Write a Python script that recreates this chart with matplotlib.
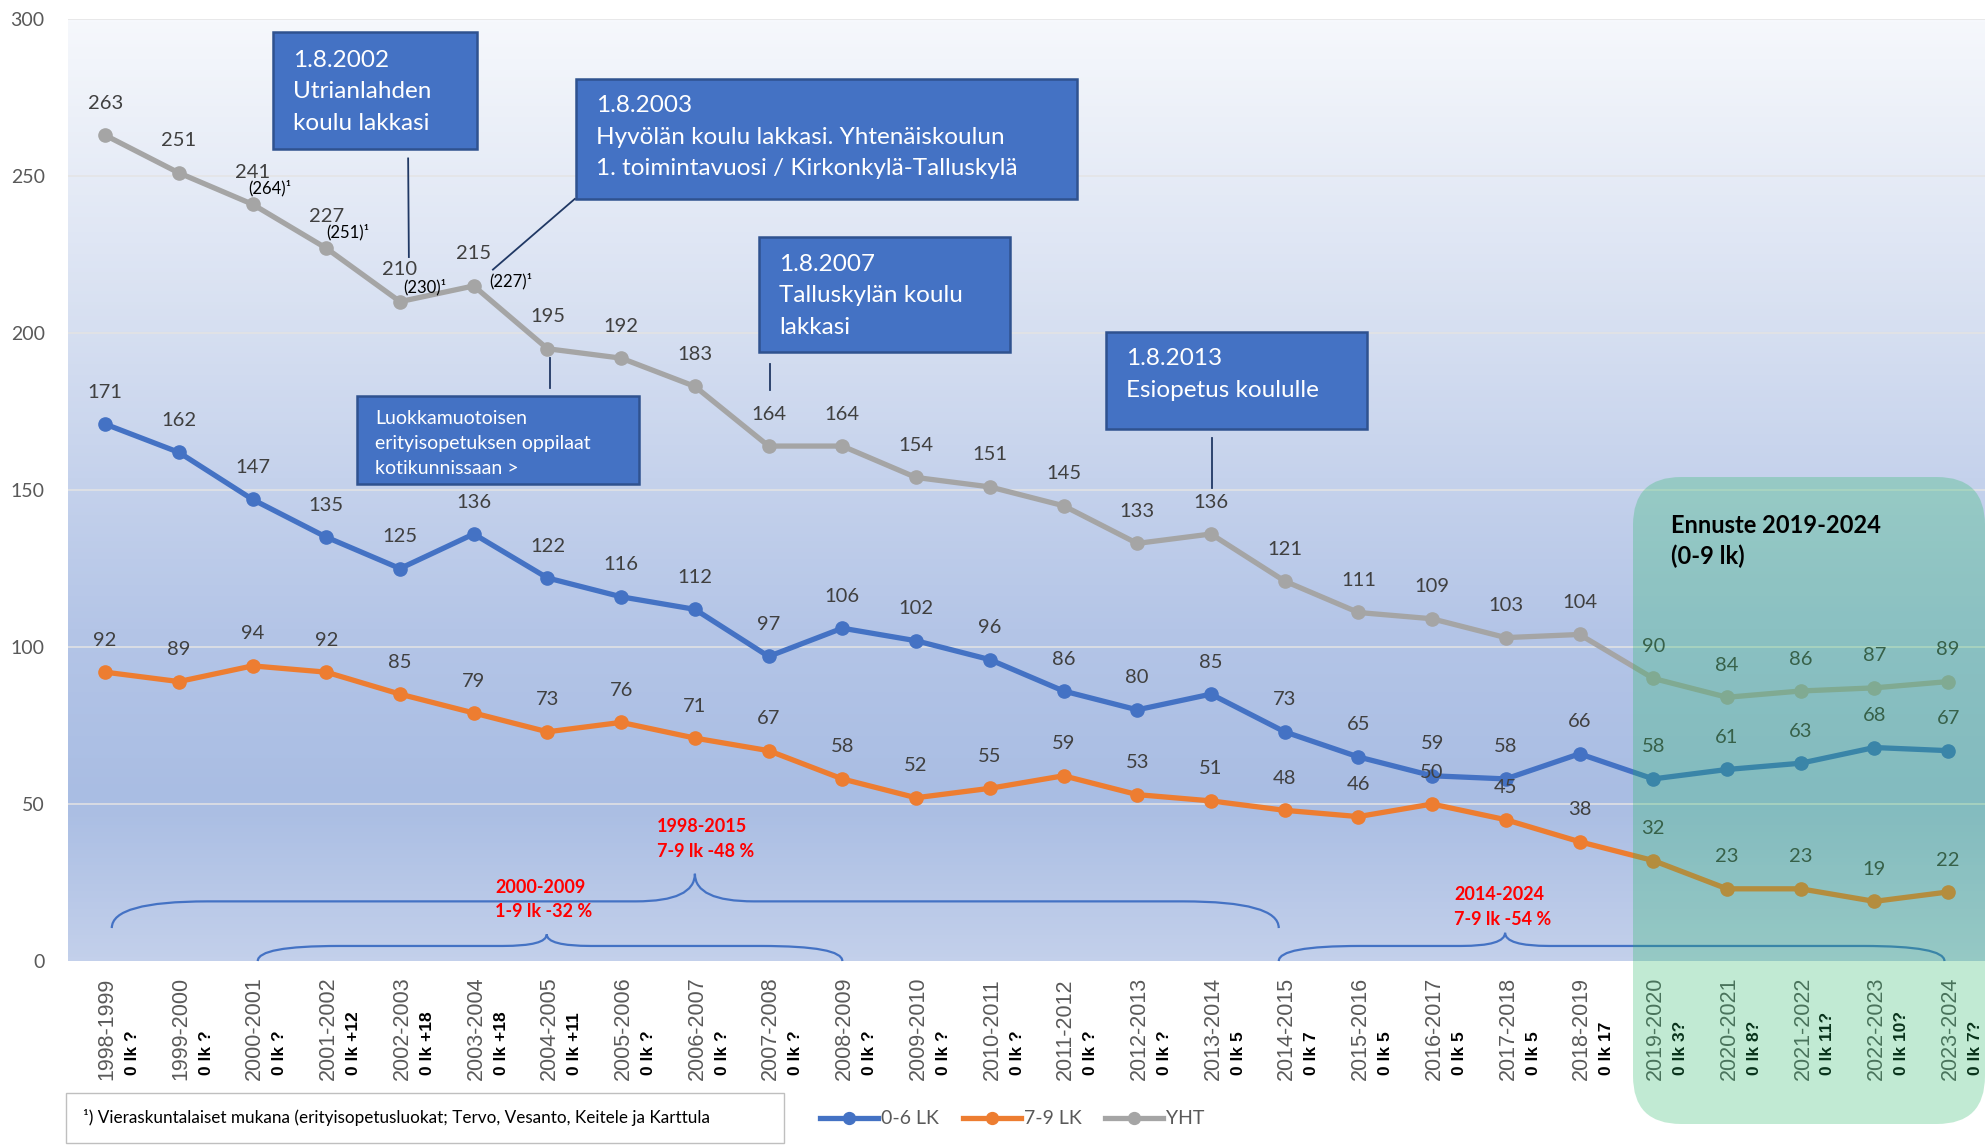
import matplotlib.pyplot as plt
from matplotlib.patches import Rectangle, FancyBboxPatch, PathPatch
from matplotlib.path import Path
from matplotlib.colors import LinearSegmentedColormap
from matplotlib.transforms import IdentityTransform
import numpy as np

plt.rcParams['font.family'] = ['Lato', 'DejaVu Sans']

# === data ===
years = ["1998-1999", "1999-2000", "2000-2001", "2001-2002", "2002-2003", "2003-2004",
         "2004-2005", "2005-2006", "2006-2007", "2007-2008", "2008-2009", "2009-2010",
         "2010-2011", "2011-2012", "2012-2013", "2013-2014", "2014-2015", "2015-2016",
         "2016-2017", "2017-2018", "2018-2019", "2019-2020", "2020-2021", "2021-2022",
         "2022-2023", "2023-2024"]
esi = ["0 lk ?", "0 lk ?", "0 lk ?", "0 lk +12", "0 lk +18", "0 lk +18", "0 lk +11",
       "0 lk ?", "0 lk ?", "0 lk ?", "0 lk ?", "0 lk ?", "0 lk ?", "0 lk ?", "0 lk ?",
       "0 lk 5", "0 lk 7", "0 lk 5", "0 lk 5", "0 lk 5", "0 lk 17", "0 lk 3?", "0 lk 8?",
       "0 lk 11?", "0 lk 10?", "0 lk 7?"]
lk_0_6 = [171, 162, 147, 135, 125, 136, 122, 116, 112, 97, 106, 102, 96, 86, 80, 85,
          73, 65, 59, 58, 66, 58, 61, 63, 68, 67]
lk_7_9 = [92, 89, 94, 92, 85, 79, 73, 76, 71, 67, 58, 52, 55, 59, 53, 51,
          48, 46, 50, 45, 38, 32, 23, 23, 19, 22]
yht = [263, 251, 241, 227, 210, 215, 195, 192, 183, 164, 164, 154, 151, 145, 133, 136,
       121, 111, 109, 103, 104, 90, 84, 86, 87, 89]
# YHT incl. students from other municipalities
extra_txt = ["(264)¹", "(251)¹", "(230)¹", "(227)¹"]

BLUE, ORANGE, GRAY = "#4472c4", "#ed7d31", "#a5a5a5"
LBL = "#404040"

fig = plt.figure(figsize=(19.85, 11.46), dpi=100)
ax = fig.add_axes([0.0344, 0.1614, 0.9656, 0.822])
x = np.arange(len(years))

# gradient background
cmap = LinearSegmentedColormap.from_list(
    "bg", [(0, "#c3d0eb"), (0.17, "#a9bde3"), (0.35, "#b4c5e7"), (0.67, "#d6dff1"), (1, "#f6f8fc")])
grad = np.linspace(0, 1, 256).reshape(-1, 1)
ax.imshow(grad, cmap=cmap, origin="lower", extent=(-0.5, 25.5, 0, 300), aspect="auto", zorder=0)

ax.set_xlim(-0.5, 25.5)
ax.set_ylim(0, 300)
ax.set_yticks(range(0, 301, 50))
for v in range(50, 301, 50):
    ax.axhline(v, color="#e4e4e4", lw=1.1, zorder=0.5)
for s in ax.spines.values():
    s.set_visible(False)
ax.tick_params(axis="y", length=0, pad=17, labelsize=14, labelcolor="#595959")
ax.set_xticks([])

# lines
l1, = ax.plot(x, lk_0_6, color=BLUE, lw=3.8, marker="o", ms=9.5, label="0-6 LK", zorder=2)
l2, = ax.plot(x, lk_7_9, color=ORANGE, lw=3.8, marker="o", ms=9.5, label="7-9 LK", zorder=2)
l3, = ax.plot(x, yht, color=GRAY, lw=3.8, marker="o", ms=9.5, label="YHT", zorder=2)

for series in (lk_0_6, lk_7_9, yht):
    for i, v in enumerate(series):
        ax.annotate(str(v), (i, v), xytext=(0, 23), textcoords="offset points",
                    ha="center", va="center", fontsize=14.5, color=LBL, zorder=3)

extra_pos = [(2.23, 246), (3.29, 232), (4.33, 214.5), (5.5, 216.5)]
for (ex, ey), t in zip(extra_pos, extra_txt):
    ax.text(ex, ey, t, fontsize=12, color="black", ha="center", va="center", zorder=3)

# x labels (two lines, different styles)
for i in x:
    ax.text(i + 0.03, -0.126, years[i], transform=ax.get_xaxis_transform(), rotation=90,
            ha="center", va="bottom", fontsize=15.5, color="#595959",
            family="Liberation Sans", clip_on=False)
    ax.text(i + 0.37, -0.121, esi[i], transform=ax.get_xaxis_transform(), rotation=90,
            ha="center", va="bottom", fontsize=12.5, color="black", weight="bold",
            family="Liberation Sans", clip_on=False)


# annotation boxes
def box(x0, x1, y0, y1, txt, tx, ty, fs, ls):
    ax.add_patch(Rectangle((x0, y0), x1 - x0, y1 - y0, facecolor="#4472c4",
                           edgecolor="#2f528f", lw=1.8, zorder=4))
    ax.text(tx, ty, txt, color="white", fontsize=fs, ha="left", va="top",
            linespacing=ls, zorder=5)


box(2.28, 5.05, 258.5, 296, "1.8.2002\nUtrianlahden\nkoulu lakkasi", 2.55, 290.2, 17.5, 1.62)
box(6.39, 13.18, 242.7, 281, "1.8.2003\nHyvölän koulu lakkasi. Yhtenäiskoulun\n"
    "1. toimintavuosi / Kirkonkylä-Talluskylä", 6.66, 275.8, 17.5, 1.62)
box(8.87, 12.28, 194, 230.6, "1.8.2007\nTalluskylän koulu\nlakkasi", 9.14, 225.3, 17.5, 1.62)
box(3.42, 7.24, 152, 179.8, "Luokkamuotoisen\nerityisopetuksen oppilaat\nkotikunnissaan >",
    3.66, 175.5, 14, 1.58)
box(13.58, 17.12, 169.4, 200.4, "1.8.2013\nEsiopetus koululle", 13.85, 195.2, 17.5, 1.62)

conn = [((4.11, 4.12), (255.6, 224.2)), ((6.37, 5.26), (242.7, 220.2)),
        ((9.02, 9.02), (190, 182)), ((6.04, 6.04), (192, 182.6)),
        ((15.02, 15.02), (166.5, 150.8))]
for cx, cy in conn:
    ax.plot(cx, cy, color="#203864", lw=1.3, zorder=4)


# braces
def brace(x0, x1, xm, yb, yf, yt, we, wt):
    verts = [(x0, yb), (x0, yf), (x0 + we, yf), (xm - wt, yf), (xm, yf), (xm, yt),
             (xm, yf), (xm + wt, yf), (x1 - we, yf), (x1, yf), (x1, yb)]
    codes = [Path.MOVETO, Path.CURVE3, Path.CURVE3, Path.LINETO, Path.CURVE3, Path.CURVE3,
             Path.CURVE3, Path.CURVE3, Path.LINETO, Path.CURVE3, Path.CURVE3]
    ax.add_patch(PathPatch(Path(verts, codes), facecolor="none", edgecolor=BLUE,
                           lw=1.6, zorder=1, clip_on=False))


brace(0.09, 15.92, 8.0, 10.5, 19, 27.8, 1.3, 0.8)
brace(2.07, 10.0, 5.99, 0, 4.8, 8.5, 1.1, 0.6)
brace(15.92, 24.95, 18.99, 0, 4.8, 9, 1.1, 0.6)

for tx, ty, t in [(7.48, 38.9, "1998-2015\n7-9 lk -48 %"),
                  (5.29, 19.6, "2000-2009\n1-9 lk -32 %"),
                  (18.3, 17.3, "2014-2024\n7-9 lk -54 %")]:
    ax.text(tx, ty, t, color="#ff0000", weight="bold", fontsize=13, ha="left",
            va="center", linespacing=1.55, zorder=3)

# forecast overlay (pixel coords)
fig.add_artist(FancyBboxPatch((1633, 22), 352, 647, boxstyle="round,pad=0,rounding_size=48",
                              transform=IdentityTransform(), facecolor=(33/255, 183/255, 98/255),
                              alpha=0.28, edgecolor="none", zorder=5))
fig.text(0.842, 0.528, "Ennuste 2019-2024\n(0-9 lk)", fontsize=17, weight="bold",
         color="black", ha="left", va="center", linespacing=1.4, zorder=6)

# legend + footnote
fig.legend(handles=[l1, l2, l3], loc="center", bbox_to_anchor=(0.51, 0.0236), ncol=3,
           frameon=False, fontsize=14, labelcolor="#595959", handlelength=3.0,
           handletextpad=0.15, columnspacing=1.2, markerscale=0.9)
fig.add_artist(Rectangle((0.033, 0.003), 0.362, 0.0436, transform=fig.transFigure,
                         facecolor="white", edgecolor="#bfbfbf", lw=1))
fig.text(0.042, 0.0245, "¹) Vieraskuntalaiset mukana (erityisopetusluokat; Tervo, Vesanto, Keitele ja Karttula",
         fontsize=12.3, color="black", ha="left", va="center")

fig.savefig("out.png", dpi=100)
